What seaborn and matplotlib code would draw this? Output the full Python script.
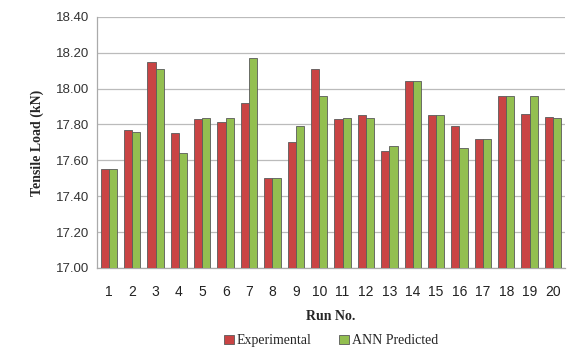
import matplotlib
matplotlib.use('Agg')
import matplotlib.pyplot as plt
import numpy as np
import pandas as pd
import seaborn as sns

# ── Data ──
RUNS = list(range(1, 21))
EXPERIMENTAL = [17.55, 17.77, 18.15, 17.75, 17.83, 17.815, 17.92, 17.50, 17.70, 18.11,
                17.83, 17.85, 17.65, 18.04, 17.85, 17.79, 17.72, 17.96, 17.86, 17.84]
ANN_PREDICTED = [17.55, 17.76, 18.11, 17.64, 17.835, 17.835, 18.17, 17.50, 17.79, 17.96,
                 17.835, 17.835, 17.68, 18.04, 17.85, 17.67, 17.72, 17.96, 17.96, 17.835]
SERIES = ["Experimental", "ANN Predicted"]

df = pd.DataFrame({
    "run": RUNS * 2,
    "load": EXPERIMENTAL + ANN_PREDICTED,
    "series": [SERIES[0]] * len(RUNS) + [SERIES[1]] * len(RUNS),
})

sns.set_style("white")
plt.rcParams['font.family'] = ['Liberation Sans', 'DejaVu Sans']

fig = plt.figure(figsize=(5.71, 3.52), dpi=100)
ax = fig.add_axes([0.17, 0.239, 0.819, 0.713])

palette = {"Experimental": "#C94444", "ANN Predicted": "#93BF50"}
sns.barplot(data=df, x="run", y="load", hue="series", palette=palette, saturation=1,
            width=0.7, edgecolor="#5A5A5A", linewidth=0.6, ax=ax, zorder=3)

ax.set_ylim(17.0, 18.4)
ax.set_yticks(np.arange(17.0, 18.41, 0.2))
ax.set_yticklabels([f"{v:.2f}" for v in np.arange(17.0, 18.41, 0.2)], fontsize=9.5, color="#333333")
ax.tick_params(axis='x', labelsize=10, colors="#222222", length=0, pad=12)
ax.tick_params(axis='y', length=0, pad=6)
ax.yaxis.grid(True, color="#BBBBBB", linewidth=0.9, zorder=0)
ax.set_axisbelow(True)

for s in ["top", "right"]:
    ax.spines[s].set_visible(False)
for s in ["left", "bottom"]:
    ax.spines[s].set_color("#AAAAAA")
    ax.spines[s].set_linewidth(0.9)

ax.set_xlabel("Run No.", fontsize=10, fontweight='bold', family='Liberation Serif', labelpad=8)
ax.set_ylabel("Tensile Load (kN)", fontsize=10, fontweight='bold', family='Liberation Serif', labelpad=8)

handles, labels = ax.get_legend_handles_labels()
ax.legend(handles, labels, loc='upper center', bbox_to_anchor=(0.5, -0.215), ncol=2,
          frameon=False, prop={'family': 'Liberation Serif', 'size': 10},
          handlelength=0.7, handleheight=0.7, handletextpad=0.2, columnspacing=2.0)

fig.savefig("out.png", dpi=100, facecolor='white')
plt.close()
